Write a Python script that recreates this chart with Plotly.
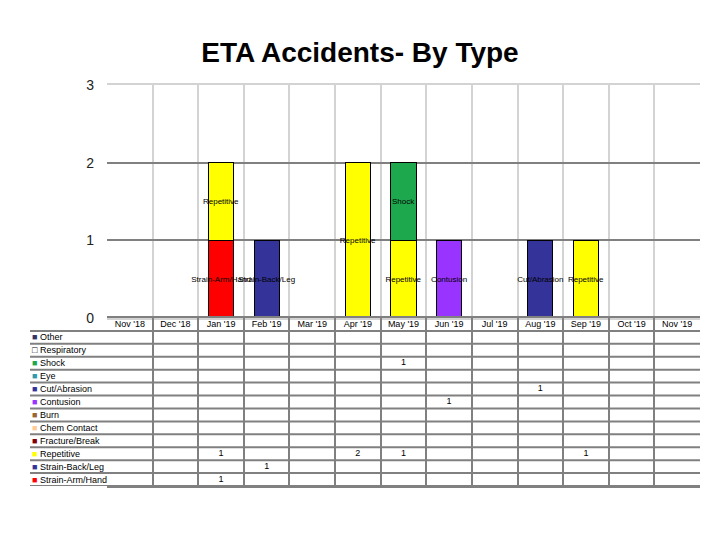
import plotly.graph_objects as go

months = ["Nov '18", "Dec '18", "Jan '19", "Feb '19", "Mar '19", "Apr '19", "May '19",
          "Jun '19", "Jul '19", "Aug '19", "Sep '19", "Oct '19", "Nov '19"]

# categories listed in table order (top to bottom)
categories = ["Other", "Respiratory", "Shock", "Eye", "Cut/Abrasion", "Contusion", "Burn",
              "Chem Contact", "Fracture/Break", "Repetitive", "Strain-Back/Leg", "Strain-Arm/Hand"]

other          = [0, 0, 0, 0, 0, 0, 0, 0, 0, 0, 0, 0, 0]
respiratory    = [0, 0, 0, 0, 0, 0, 0, 0, 0, 0, 0, 0, 0]
shock          = [0, 0, 0, 0, 0, 0, 1, 0, 0, 0, 0, 0, 0]
eye            = [0, 0, 0, 0, 0, 0, 0, 0, 0, 0, 0, 0, 0]
cut_abrasion   = [0, 0, 0, 0, 0, 0, 0, 0, 0, 1, 0, 0, 0]
contusion      = [0, 0, 0, 0, 0, 0, 0, 1, 0, 0, 0, 0, 0]
burn           = [0, 0, 0, 0, 0, 0, 0, 0, 0, 0, 0, 0, 0]
chem_contact   = [0, 0, 0, 0, 0, 0, 0, 0, 0, 0, 0, 0, 0]
fracture_break = [0, 0, 0, 0, 0, 0, 0, 0, 0, 0, 0, 0, 0]
repetitive     = [0, 0, 1, 0, 0, 2, 1, 0, 0, 0, 1, 0, 0]
strain_back    = [0, 0, 0, 1, 0, 0, 0, 0, 0, 0, 0, 0, 0]
strain_arm     = [0, 0, 1, 0, 0, 0, 0, 0, 0, 0, 0, 0, 0]

series = [other, respiratory, shock, eye, cut_abrasion, contusion, burn,
          chem_contact, fracture_break, repetitive, strain_back, strain_arm]

colors = ["#333366", "#FFFFFF", "#1EA84E", "#3399AA", "#333399", "#9933FF", "#996633",
          "#FFCC99", "#800000", "#FFFF00", "#333399", "#FF0000"]

FONT = "Liberation Sans"
HEADER = " "
GRID = "#808080"

fig = go.Figure()

# stacked bars: bottom = last in table, top = first in table
for name, vals, col in reversed(list(zip(categories, series, colors))):
    fig.add_trace(go.Bar(
        x=months,
        y=[v if v else None for v in vals],
        name=name,
        marker=dict(color=col, line=dict(color="#000000", width=1)),
        text=[name if v else "" for v in vals],
        textposition="inside",
        insidetextanchor="middle",
        textangle=0,
        constraintext="none",
        textfont=dict(size=8, color="#000000", family=FONT),
        width=0.55,
        showlegend=False,
        xaxis="x", yaxis="y",
    ))

# data table as a second subplot: header row of months + one row per category
fig.add_trace(go.Scatter(
    x=months, y=[HEADER] * len(months), mode="text", text=months,
    textfont=dict(size=9, color="#000000", family=FONT),
    showlegend=False, hoverinfo="skip", xaxis="x2", yaxis="y2",
))
tx, ty, tt = [], [], []
for cat, vals in zip(categories, series):
    for m, v in zip(months, vals):
        if v:
            tx.append(m)
            ty.append(cat)
            tt.append(str(v))
fig.add_trace(go.Scatter(
    x=tx, y=ty, mode="text", text=tt,
    textfont=dict(size=9, color="#000000", family=FONT),
    showlegend=False, xaxis="x2", yaxis="y2",
))

row_order = list(reversed(categories)) + [HEADER]

# category labels with colour keys in the left column
for cat, col in zip(categories, colors):
    if col == "#FFFFFF":
        key = "<span style='color:#000000'>□</span>"
    else:
        key = "<span style='color:%s'>■</span>" % col
    fig.add_annotation(
        x=0, xref="paper", xanchor="left", y=cat, yref="y2",
        text="%s %s" % (key, cat),
        showarrow=False, font=dict(size=9, color="#000000", family=FONT),
    )

# horizontal table lines across the label column and data columns
for i in range(len(categories) + 1):
    fig.add_shape(type="line", xref="paper", x0=0, x1=1, yref="y2",
                  y0=i - 0.5, y1=i - 0.5, line=dict(color=GRID, width=2))

# page is offset by the 8px body margin; place the figure accordingly
ML, MR, MT, MB = 22, 28, 77, 62
PH = 540 - MT - MB
PW = 720 - ML - MR
split = (540 - MB - (318 - 8)) / PH
xrange = [-0.5, len(months) - 0.5]

fig.update_layout(
    width=720, height=540,
    margin=dict(l=ML, r=MR, t=MT, b=MB),
    paper_bgcolor="white", plot_bgcolor="white",
    barmode="stack",
    title=dict(text="<b>ETA Accidents- By Type</b>", x=(360 - 8) / 720, xanchor="center",
               y=1 - 44 / 540, yanchor="middle",
               font=dict(size=28, color="#000000", family=FONT)),
    xaxis=dict(domain=[77 / PW, 1], type="category", categoryarray=months, range=xrange,
               tickson="boundaries", showgrid=True, gridcolor="#D3D3D3", gridwidth=2,
               showticklabels=False, ticks="", showline=True, linecolor="#D3D3D3",
               linewidth=2, mirror=True, anchor="y"),
    yaxis=dict(domain=[split, 1], range=[0, 3], dtick=1,
               showgrid=True, gridcolor=GRID, gridwidth=2,
               zeroline=True, zerolinecolor=GRID, zerolinewidth=2,
               ticks="", ticklabelstandoff=12, anchor="x", automargin=False,
               tickfont=dict(size=14, color="#222222", family=FONT)),
    xaxis2=dict(domain=[77 / PW, 1], type="category", categoryarray=months, range=xrange,
                tickson="boundaries", showgrid=True, gridcolor=GRID, gridwidth=2,
                showticklabels=False, ticks="", showline=True, linecolor=GRID,
                linewidth=2, mirror=True, anchor="y2", zeroline=False),
    yaxis2=dict(domain=[0, split], type="category", categoryarray=row_order,
                range=[-0.5, len(row_order) - 0.5], showgrid=False,
                showticklabels=False, ticks="", showline=False, anchor="x2",
                zeroline=False),
)

fig.write_html("out.html")
